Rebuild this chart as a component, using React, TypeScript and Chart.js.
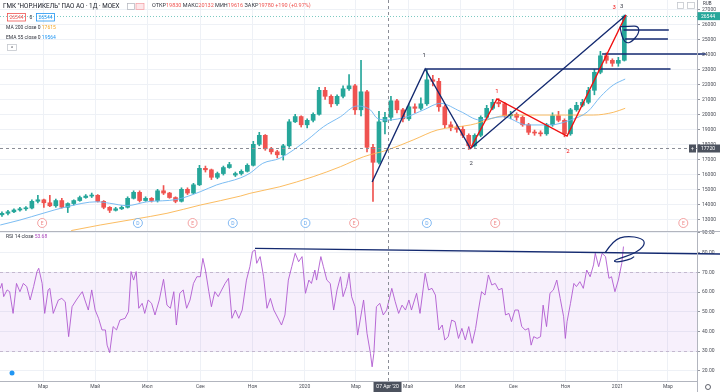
import React, { useEffect, useRef } from 'react';
import { Chart, registerables } from 'chart.js';
Chart.register(...registerables);

const FONT = 'Roboto, "Liberation Sans", sans-serif';

// ---- time axis (days since 2019-01-01) ----
const monthTickDays = [59, 120, 181, 243, 304, 365, 425, 486, 547, 609, 670, 731, 790];
const monthTickLabels = ['Мар', 'Май', 'Июл', 'Сен', 'Ноя', '2020', 'Мар', 'Май', 'Июл', 'Сен', 'Ноя', '2021', 'Мар'];
const priceTicks = [13000, 14000, 15000, 16000, 17000, 18000, 19000, 20000, 21000, 22000, 23000, 24000, 25000, 26000, 27000];
const rsiTicks = [20, 30, 40, 50, 60, 70, 80, 90];

// ---- weekly candles ----
const candleDays = [
  11, 18, 25, 32, 39, 46, 53, 60, 67, 74,
  81, 88, 95, 102, 109, 116, 123, 130, 137, 144,
  151, 158, 165, 172, 179, 186, 193, 200, 207, 214,
  221, 228, 235, 242, 249, 256, 263, 270, 277, 284,
  291, 298, 305, 312, 319, 326, 333, 340, 347, 354,
  361, 368, 375, 382, 389, 396, 403, 410, 417, 424,
  431, 438, 445, 452, 459, 466, 473, 480, 487, 494,
  501, 508, 515, 522, 529, 536, 543, 550, 557, 564,
  571, 578, 585, 592, 599, 606, 613, 620, 627, 634,
  641, 648, 655, 662, 669, 676, 683, 690, 697, 704,
  711, 718, 725, 732, 739];
const opens = [
  13300, 13400, 13500, 13620, 13700, 13750, 14200, 14300, 14100, 13900,
  14250, 13800, 14050, 14250, 14450, 14550, 14600, 14200, 13800, 13600,
  13700, 13800, 14400, 14800, 14250, 14400, 14250, 14900, 14750, 14450,
  14200, 15000, 14750, 15300, 16400, 16300, 15800, 16050, 16450, 15950,
  16050, 16200, 16600, 18000, 18600, 17700, 17500, 17300, 17900, 19500,
  19850, 19300, 19600, 20000, 21600, 21200, 20700, 21200, 21700, 21900,
  20300, 21500, 17800, 16800, 19500, 19800, 20900, 20300, 19700, 20500,
  20400, 20700, 22300, 22200, 20500, 19300, 19100, 19000, 18600, 17900,
  18600, 19800, 20400, 20800, 20700, 19900, 20000, 19800, 19300, 18800,
  18750, 18700, 19300, 19900, 19600, 18700, 20300, 20600, 20800, 21600,
  22800, 23900, 23600, 23400, 23600];
const highs = [
  13500, 13600, 13700, 13800, 13850, 14300, 14600, 14350, 14600, 14350,
  14400, 14100, 14300, 14550, 14650, 14750, 14650, 14250, 13850, 13800,
  13900, 14500, 14900, 14900, 14500, 14450, 15000, 15250, 14800, 14500,
  15100, 15100, 15400, 16600, 16550, 16350, 16150, 16550, 16800, 16150,
  16300, 16700, 18200, 18800, 18650, 17800, 17600, 18000, 19650, 20000,
  19900, 19700, 20100, 21800, 21800, 21300, 21300, 21900, 22650, 22000,
  23600, 21600, 18000, 20200, 20132, 21200, 21000, 20400, 20700, 20700,
  21100, 23000, 22600, 22400, 20600, 19500, 19300, 19200, 18700, 18700,
  19900, 20600, 21000, 21050, 20800, 20200, 20100, 19900, 19400, 18950,
  18900, 19400, 20100, 20200, 19700, 20400, 20800, 21000, 21800, 23000,
  24200, 24100, 23700, 23800, 26620];
const lows = [
  13200, 13300, 13450, 13550, 13600, 13700, 14100, 13800, 13850, 13800,
  13750, 13450, 13950, 14200, 14400, 14450, 14150, 13700, 13450, 13550,
  13650, 13750, 14350, 14150, 14200, 14150, 14150, 14650, 14400, 14100,
  14150, 14650, 14700, 15250, 16150, 15650, 15700, 15950, 16400, 15850,
  15950, 16150, 16550, 17900, 17600, 17350, 17100, 16950, 17800, 19450,
  19150, 19100, 19500, 19950, 21000, 20500, 20600, 21100, 21600, 20000,
  19900, 17500, 14200, 16700, 18700, 19600, 20100, 19500, 19600, 20100,
  20300, 20600, 21900, 20200, 19100, 18900, 18800, 18450, 17650, 17800,
  18500, 19700, 20300, 20500, 19800, 19700, 19600, 19200, 18650, 18600,
  18550, 18600, 19200, 19500, 18500, 18600, 20200, 20500, 20700, 21300,
  22700, 23400, 23200, 23200, 23550];
const closes = [
  13400, 13500, 13620, 13700, 13750, 14200, 14300, 14100, 13900, 14250,
  13800, 14050, 14250, 14450, 14550, 14600, 14200, 13800, 13600, 13700,
  13800, 14400, 14800, 14250, 14400, 14250, 14900, 14750, 14450, 14200,
  15000, 14750, 15300, 16400, 16300, 15800, 16050, 16450, 16650, 16050,
  16200, 16600, 18000, 18600, 17700, 17500, 17300, 17900, 19500, 19850,
  19300, 19600, 20000, 21600, 21200, 20700, 21200, 21700, 21900, 20300,
  21500, 17800, 16800, 19500, 19800, 20900, 20300, 19700, 20500, 20400,
  20700, 22300, 22200, 20500, 19300, 19100, 19000, 18600, 17900, 18600,
  19800, 20400, 20800, 20700, 19900, 20000, 19800, 19300, 18800, 18750,
  18700, 19300, 19900, 19600, 18700, 20300, 20600, 20800, 21600, 22800,
  23900, 23600, 23400, 23600, 26544];

// ---- moving averages [day, value] ----
const ema55: [number, number][] = [
  [9, 12620], [32, 12950], [59, 13400], [87, 13840], [122, 14170], [137, 14070], [157, 13910],
  [181, 14170], [216, 14330], [243, 14840], [262, 15290], [290, 15760], [301, 16070], [316, 16730],
  [336, 17070], [368, 18290], [387, 19170], [407, 19840], [426, 20550], [442, 20290], [450, 19730],
  [462, 19620], [485, 19840], [504, 20290], [524, 20730], [547, 20200], [570, 19620], [597, 19840],
  [625, 19290], [652, 19290], [676, 19620], [696, 20170], [711, 21170], [726, 21950], [740, 22350]];
const ma200: [number, number][] = [
  [92, 12250], [126, 12620], [165, 13000], [204, 13400], [243, 13950], [290, 14550], [301, 14730],
  [336, 15170], [375, 15840], [407, 16510], [434, 17170], [462, 17620], [492, 18290], [520, 18950],
  [559, 19290], [605, 19950], [664, 19950], [703, 19950], [726, 20130], [740, 20400]];

// ---- RSI 14 [day, value] ----
const rsi14: [number, number][] = [
  [9, 61.9], [11, 64.4], [13, 57.7], [17, 61.1], [20, 60.2], [24, 49.2], [28, 64.4], [32, 60.2],
  [36, 64.4], [40, 62.8], [44, 56], [48, 62.8], [52, 70.4], [54, 72.1], [58, 64.4], [61, 49.2],
  [65, 61.1], [67, 61.9], [71, 49.2], [77, 56], [81, 56.8], [85, 55.1], [89, 37.4], [93, 52.6],
  [98, 56], [102, 58.5], [105, 60.2], [108, 56], [112, 50.9], [116, 61.1], [120, 50.9], [124, 46.7],
  [128, 40.8], [132, 40.8], [134, 33.1], [137, 29.3], [141, 42.5], [145, 40.8], [149, 45.8], [155, 46.7],
  [159, 50.1], [162, 70.4], [165, 66.1], [168, 70.4], [171, 51.8], [175, 54.3], [178, 49.2], [182, 56],
  [186, 54.3], [190, 48.4], [195, 56], [200, 66.5], [204, 53.4], [208, 51.8], [212, 60.2], [215, 43.3],
  [219, 59.4], [223, 61.1], [227, 51.8], [231, 56], [235, 64.4], [239, 67.8], [243, 67.8], [246, 77.1],
  [249, 71.2], [253, 60.2], [256, 52.6], [260, 60.2], [264, 57.7], [268, 61.1], [272, 64.4], [276, 67],
  [280, 46.7], [284, 50.9], [288, 46.7], [292, 50.9], [297, 66.1], [301, 72.9], [304, 80.5], [307, 81.4],
  [309, 74.6], [313, 78], [317, 67.8], [321, 51.8], [325, 56.8], [329, 50.9], [332, 48.4], [338, 43.3],
  [342, 48.4], [346, 66.1], [350, 72.9], [354, 79.7], [358, 75.4], [362, 78], [366, 59.4], [370, 66.1],
  [373, 64.4], [377, 71.2], [379, 66.1], [384, 78], [387, 72.9], [391, 66.1], [395, 64.4], [399, 50.9],
  [403, 61.1], [407, 67.8], [410, 57.7], [414, 62.8], [417, 69.5], [420, 57.7], [424, 52.6], [427, 38.2],
  [430, 45.8], [434, 56], [438, 39.1], [442, 28.9], [444, 22.1], [446, 28.9], [449, 52.6], [453, 54.3],
  [457, 48.4], [461, 50.9], [467, 61.9], [471, 55.1], [475, 49.2], [479, 53.4], [483, 50.9], [487, 56],
  [490, 50.9], [496, 59.4], [500, 49.2], [506, 69.5], [510, 61.1], [514, 61.9], [518, 58.5], [522, 40.8],
  [526, 43.3], [529, 35.7], [533, 37.4], [537, 45.8], [541, 45], [545, 36.5], [549, 41.6], [553, 35.7],
  [557, 42.5], [561, 34], [565, 41.6], [568, 50.1], [572, 60.2], [576, 58.5], [580, 68.7], [584, 63.6],
  [588, 64.4], [592, 61.1], [596, 61.9], [600, 48.4], [604, 49.2], [607, 45], [611, 50.9], [615, 50.9],
  [619, 42.5], [623, 40.8], [627, 41.6], [630, 33.1], [633, 37.4], [637, 36.5], [641, 37.4], [644, 53.4],
  [648, 42.5], [652, 59.4], [656, 61.1], [660, 66.1], [664, 56.8], [668, 47.5], [670, 36.5], [672, 45],
  [676, 54.3], [680, 64.4], [683, 62.8], [687, 65.3], [691, 61.9], [695, 71.2], [699, 67.8], [703, 73.8],
  [705, 79.7], [709, 72.9], [713, 79.7], [717, 78], [721, 67], [724, 67.8], [728, 60.2], [732, 66.1],
  [736, 74.6], [738, 83.1]];
const rsiBand = [70, 30];

// ---- annotations (data units) ----
const blueWaveDays = [444, 506, 559, 741];
const blueWavePrices = [15490, 23020, 17720, 26620];
const redWaveDays = [559, 590, 672, 741];
const redWavePrices = [17720, 21020, 18550, 26620];
const blueLabelDays = [505, 560, 736];
const blueLabelPrices = [23950, 16750, 27220];
const redLabelDays = [590, 673, 727];
const redLabelPrices = [21550, 17490, 27090];
const waveLabelTexts = ['1', '2', '3'];
const levelPrices = [23020, 24020, 25020, 25620];
const levelStartDays = [506, 713, 740, 738];
const levelEndDays = [793, 834, 790, 791];
const priceLoopDays = [734, 745, 755.5, 756.3, 747.8, 742, 737.3, 735, 734];
const priceLoopPrices = [25840, 25860, 25887, 25400, 24840, 24733, 25000, 25507, 25840];
const rsiTrendDays = [307, 851];
const rsiTrendValues = [82.2, 79.3];
const rsiLoopDays = [716.6, 726.3, 742, 759.5, 763.4, 757.5, 745.8, 734, 726.3, 730.2, 745.8, 750.5];
const rsiLoopValues = [80, 86.4, 88.6, 87.3, 84.8, 81.4, 78.8, 77.2, 75.9, 75.1, 76.6, 78];
const eventEDays = [58, 234, 423, 588, 808];
const eventDDays = [170, 281, 366, 508];
const crossDay = 462;
const crossPrice = 17720;
const crossLabel = "07 Apr '20";
const lastPrice = 26544;

const UP = '#26a69a';
const DOWN = '#ef5350';
const NAVY = '#142a70';
const GRID = '#eef1f6';

function smoothPath(ctx: CanvasRenderingContext2D, pts: number[][]) {
  ctx.beginPath();
  ctx.moveTo(pts[0][0], pts[0][1]);
  for (let i = 1; i < pts.length - 1; i++) {
    const mx = (pts[i][0] + pts[i + 1][0]) / 2;
    const my = (pts[i][1] + pts[i + 1][1]) / 2;
    ctx.quadraticCurveTo(pts[i][0], pts[i][1], mx, my);
  }
  const l = pts[pts.length - 1];
  ctx.lineTo(l[0], l[1]);
  ctx.stroke();
}

function seq(ctx: CanvasRenderingContext2D, x: number, y: number, parts: [string, string][]) {
  let cx = x;
  for (const [t, c] of parts) {
    ctx.fillStyle = c;
    ctx.fillText(t, cx, y);
    cx += ctx.measureText(t).width;
  }
  return cx;
}

const overlayPlugin = {
  id: 'overlay',
  beforeDatasetsDraw(chart: any) {
    const { ctx, chartArea } = chart;
    const ys = chart.scales.y, rs = chart.scales.rsi;
    ctx.save();
    const y70 = rs.getPixelForValue(rsiBand[0]);
    const y30 = rs.getPixelForValue(rsiBand[1]);
    ctx.fillStyle = 'rgba(165, 90, 225, 0.09)';
    ctx.fillRect(chartArea.left, y70, chartArea.right - chartArea.left, y30 - y70);
    ctx.setLineDash([3, 3]);
    ctx.strokeStyle = '#c4b8cf';
    ctx.lineWidth = 1;
    for (const y of [y70, y30]) {
      ctx.beginPath();
      ctx.moveTo(chartArea.left, Math.round(y) + 0.5);
      ctx.lineTo(chartArea.right, Math.round(y) + 0.5);
      ctx.stroke();
    }
    ctx.setLineDash([1, 2]);
    ctx.strokeStyle = 'rgba(38,166,154,0.6)';
    const yl = Math.round(ys.getPixelForValue(lastPrice)) + 0.5;
    ctx.beginPath();
    ctx.moveTo(chartArea.left, yl);
    ctx.lineTo(chartArea.right, yl);
    ctx.stroke();
    ctx.restore();
  },
  afterDatasetsDraw(chart: any) {
    const { ctx, chartArea } = chart;
    const xs = chart.scales.x, ys = chart.scales.y, rs = chart.scales.rsi;
    const X = (d: number) => xs.getPixelForValue(d);
    const Y = (p: number) => ys.getPixelForValue(p);
    const R = (v: number) => rs.getPixelForValue(v);
    ctx.save();
    // crosshair
    ctx.setLineDash([3, 3]);
    ctx.strokeStyle = '#8a8d96';
    ctx.lineWidth = 1;
    const cx = Math.round(X(crossDay)) + 0.5;
    ctx.beginPath();
    ctx.moveTo(cx, chartArea.top);
    ctx.lineTo(cx, chartArea.bottom);
    ctx.stroke();
    const cy = Math.round(Y(crossPrice)) + 0.5;
    ctx.beginPath();
    ctx.moveTo(chartArea.left, cy);
    ctx.lineTo(chartArea.right, cy);
    ctx.stroke();
    ctx.setLineDash([]);

    // event markers
    const evY = ys.bottom - 8;
    ctx.font = `5px ${FONT}`;
    ctx.textAlign = 'center';
    ctx.textBaseline = 'middle';
    const drawEv = (d: number, t: string, c: string) => {
      ctx.beginPath();
      ctx.arc(X(d), evY, 4.5, 0, Math.PI * 2);
      ctx.fillStyle = '#fff';
      ctx.fill();
      ctx.strokeStyle = c;
      ctx.lineWidth = 0.8;
      ctx.stroke();
      ctx.fillStyle = c;
      ctx.fillText(t, X(d), evY + 0.3);
    };
    eventEDays.forEach(d => drawEv(d, 'E', '#f08a8a'));
    eventDDays.forEach(d => drawEv(d, 'D', '#64a8ef'));

    // horizontal levels
    ctx.strokeStyle = NAVY;
    ctx.lineWidth = 1.4;
    levelPrices.forEach((p, i) => {
      ctx.beginPath();
      ctx.moveTo(X(levelStartDays[i]), Y(p));
      ctx.lineTo(X(levelEndDays[i]), Y(p));
      ctx.stroke();
    });
    // waves
    const wave = (ds: number[], ps: number[], c: string) => {
      ctx.strokeStyle = c;
      ctx.lineWidth = 1.4;
      ctx.beginPath();
      ds.forEach((d, i) => (i ? ctx.lineTo(X(d), Y(ps[i])) : ctx.moveTo(X(d), Y(ps[i]))));
      ctx.stroke();
    };
    wave(blueWaveDays, blueWavePrices, NAVY);
    wave(redWaveDays, redWavePrices, '#f01010');
    ctx.font = `6px ${FONT}`;
    waveLabelTexts.forEach((t, i) => {
      ctx.fillStyle = '#3a3d48';
      ctx.fillText(t, X(blueLabelDays[i]), Y(blueLabelPrices[i]));
      ctx.fillStyle = '#f01010';
      ctx.fillText(t, X(redLabelDays[i]), Y(redLabelPrices[i]));
    });
    // hand-drawn loops
    ctx.strokeStyle = NAVY;
    ctx.lineWidth = 1.2;
    smoothPath(ctx, priceLoopDays.map((d, i) => [X(d), Y(priceLoopPrices[i])]));
    smoothPath(ctx, rsiLoopDays.map((d, i) => [X(d), R(rsiLoopValues[i])]));
    // rsi trend
    ctx.lineWidth = 1.4;
    ctx.beginPath();
    ctx.moveTo(X(rsiTrendDays[0]), R(rsiTrendValues[0]));
    ctx.lineTo(X(rsiTrendDays[1]), R(rsiTrendValues[1]));
    ctx.stroke();
    ctx.restore();
  },
  afterDraw(chart: any) {
    const { ctx, chartArea, width, height } = chart;
    const xs = chart.scales.x, ys = chart.scales.y, rs = chart.scales.rsi;
    ctx.save();
    // separators
    ctx.strokeStyle = '#b2b5be';
    ctx.lineWidth = 1;
    const sy = Math.round(ys.bottom) + 0.5;
    ctx.beginPath(); ctx.moveTo(0, sy); ctx.lineTo(width, sy); ctx.stroke();
    const ax = Math.round(chartArea.right) + 0.5;
    ctx.beginPath(); ctx.moveTo(ax, 0); ctx.lineTo(ax, height); ctx.stroke();

    ctx.textBaseline = 'middle';
    ctx.textAlign = 'left';
    // header
    ctx.font = `6.3px ${FONT}`;
    ctx.fillStyle = '#131722';
    ctx.fillText('ГМК "НОР.НИКЕЛЬ" ПАО АО · 1Д · MOEX', 3, 6);
    ctx.strokeStyle = '#b0b3bb';
    ctx.lineWidth = 0.7;
    ctx.strokeRect(127.5, 3.5, 7, 6);
    ctx.fillStyle = '#fde7ea';
    ctx.fillRect(136, 3.5, 8, 6);
    ctx.strokeStyle = '#f29aa0';
    ctx.strokeRect(136, 3.5, 8, 6);
    ctx.font = `5.5px ${FONT}`;
    const G = '#30333d';
    seq(ctx, 152, 6, [['ОТКР', G], ['19830', DOWN], [' МАКС', G], ['20132', DOWN], [' МИН', G], ['19616', DOWN],
      [' ЗАКР', G], ['19780', DOWN], [' +190 (+0.97%)', DOWN]]);
    // price boxes
    ctx.font = `5px ${FONT}`;
    ctx.strokeStyle = DOWN;
    ctx.lineWidth = 0.8;
    ctx.strokeRect(7.5, 13.5, 18, 7.5);
    ctx.textAlign = 'center';
    ctx.fillStyle = DOWN;
    ctx.fillText('26544', 16.5, 17.3);
    ctx.fillStyle = G;
    ctx.fillText('0', 31, 17.3);
    ctx.strokeStyle = '#2196f3';
    ctx.strokeRect(36.5, 13.5, 18, 7.5);
    ctx.fillStyle = '#2196f3';
    ctx.fillText('26544', 45.5, 17.3);
    ctx.textAlign = 'left';
    seq(ctx, 6, 28, [['MA 200 close 0 ', G], ['17615', '#f5a623']]);
    seq(ctx, 6, 38, [['EMA 55 close 0 ', G], ['19564', '#2196f3']]);
    ctx.strokeStyle = '#c4c7ce';
    ctx.strokeRect(7.5, 44.5, 9, 6);
    ctx.fillStyle = G;
    ctx.textAlign = 'center';
    ctx.fillText('^', 12, 48.5);
    ctx.textAlign = 'left';
    // RSI title
    seq(ctx, 6, rs.top + 6, [['RSI 14 close ', G], ['53.68', '#ab47bc']]);

    // top-right icons
    ctx.strokeStyle = '#c4c7ce';
    ctx.strokeRect(677.5, 2.5, 6, 6);
    ctx.strokeRect(687.5, 2.5, 7, 6);
    ctx.fillStyle = '#fff';
    ctx.fillRect(chartArea.right + 1, 0, 22, 7);
    ctx.fillStyle = G;
    ctx.font = `4.5px ${FONT}`;
    ctx.fillText('RUB', 703, 4);

    // price label
    ctx.font = `5px ${FONT}`;
    const yl = ys.getPixelForValue(lastPrice);
    ctx.fillStyle = UP;
    ctx.fillRect(chartArea.right + 0.5, yl - 4, 23, 8);
    ctx.fillStyle = '#fff';
    ctx.fillText('26544', chartArea.right + 4, yl + 0.3);
    // crosshair labels
    const yc = ys.getPixelForValue(crossPrice);
    ctx.fillStyle = '#4c525e';
    ctx.fillRect(chartArea.right + 0.5, yc - 4, 23, 8);
    ctx.fillRect(chartArea.right - 8, yc - 4, 7, 8);
    ctx.fillStyle = '#fff';
    ctx.fillText('17720', chartArea.right + 4, yc + 0.3);
    ctx.textAlign = 'center';
    ctx.fillText('+', chartArea.right - 4.5, yc + 0.3);
    const xc = xs.getPixelForValue(crossDay);
    ctx.fillStyle = '#4c525e';
    ctx.fillRect(xc - 14, chartArea.bottom + 1, 28, 10);
    ctx.fillStyle = '#fff';
    ctx.fillText(crossLabel, xc, chartArea.bottom + 6);
    // gear
    ctx.strokeStyle = '#50535e';
    ctx.lineWidth = 0.9;
    ctx.beginPath();
    ctx.arc(708, chartArea.bottom + 6, 2.5, 0, Math.PI * 2);
    ctx.stroke();
    // bottom-left icon
    ctx.fillStyle = '#2196f3';
    ctx.beginPath();
    ctx.arc(12, rs.bottom - 8, 2.5, 0, Math.PI * 2);
    ctx.fill();
    ctx.restore();
  },
};

export default function App() {
  const ref = useRef<HTMLCanvasElement>(null);
  useEffect(() => {
    document.body.style.margin = '0';
    const colors = candleDays.map((_, i) => (closes[i] >= opens[i] ? UP : DOWN));
    const tickFont = { size: 5, family: FONT };
    const noPad = (s: any) => { s.paddingTop = 0; s.paddingBottom = 0; };
    const chart = new Chart(ref.current as HTMLCanvasElement, {
      type: 'bar',
      data: {
        datasets: [
          {
            type: 'line', label: 'RSI', yAxisID: 'rsi', order: 1,
            data: rsi14.map(([d, v]) => ({ x: d, y: v })),
            borderColor: '#b05ad0', borderWidth: 0.9, pointRadius: 0, tension: 0,
          },
          {
            type: 'line', label: 'EMA 55', yAxisID: 'y', order: 2,
            data: ema55.map(([d, v]) => ({ x: d, y: v })),
            borderColor: '#6cb4f0', borderWidth: 0.9, pointRadius: 0, cubicInterpolationMode: 'monotone',
          },
          {
            type: 'line', label: 'MA 200', yAxisID: 'y', order: 3,
            data: ma200.map(([d, v]) => ({ x: d, y: v })),
            borderColor: '#fbb44f', borderWidth: 0.9, pointRadius: 0, cubicInterpolationMode: 'monotone',
          },
          {
            type: 'bar', label: 'body', yAxisID: 'y', order: 4,
            data: candleDays.map((d, i) => ({ x: d, y: [opens[i], closes[i]] })),
            backgroundColor: colors, barThickness: 4, grouped: false, minBarLength: 1, borderWidth: 0,
          },
          {
            type: 'bar', label: 'wick', yAxisID: 'y', order: 5,
            data: candleDays.map((d, i) => ({ x: d, y: [lows[i], highs[i]] })),
            backgroundColor: colors, barThickness: 1, grouped: false, borderWidth: 0,
          },
        ] as any,
      },
      options: {
        animation: false,
        responsive: false,
        devicePixelRatio: 1,
        layout: { padding: 0 },
        plugins: { legend: { display: false }, tooltip: { enabled: false } },
        scales: {
          x: {
            type: 'linear', min: 8.7, max: 824, bounds: 'data', offset: false,
            grid: { offset: false, color: GRID, drawTicks: false },
            border: { color: '#b2b5be' },
            ticks: {
              autoSkip: false, maxRotation: 0, padding: 3, color: '#4c4f58', font: tickFont,
              callback: (_v: any, i: number) => monthTickLabels[i],
            },
            afterBuildTicks: (s: any) => { s.ticks = monthTickDays.map(v => ({ value: v })); },
            afterFit: (s: any) => { s.height = 11; s.paddingLeft = 0; s.paddingRight = 0; },
          },
          y: {
            type: 'linear', position: 'right', stack: 'panes', stackWeight: 231, weight: 0,
            min: 12220, max: 27620, bounds: 'data', beginAtZero: false,
            grid: { color: GRID, tickLength: 3, tickColor: '#9598a1' },
            border: { color: '#b2b5be' },
            ticks: {
              autoSkip: false, padding: 2, color: '#4c4f58', font: tickFont,
              callback: (v: any) => String(v),
            },
            afterBuildTicks: (s: any) => { s.ticks = priceTicks.map(v => ({ value: v })); },
            afterFit: (s: any) => { s.width = 23; noPad(s); },
          },
          rsi: {
            type: 'linear', position: 'right', stack: 'panes', stackWeight: 150, weight: 1,
            min: 14.9, max: 91, bounds: 'data', beginAtZero: false,
            grid: { color: GRID, tickLength: 3, tickColor: '#9598a1' },
            border: { color: '#b2b5be' },
            ticks: {
              autoSkip: false, padding: 2, color: '#4c4f58', font: tickFont,
              callback: (v: any) => Number(v).toFixed(2),
            },
            afterBuildTicks: (s: any) => { s.ticks = rsiTicks.map(v => ({ value: v })); },
            afterFit: (s: any) => { s.width = 23; noPad(s); },
          },
        } as any,
      },
      plugins: [overlayPlugin],
    });
    return () => chart.destroy();
  }, []);
  return (
    <div style={{ position: 'fixed', left: 0, top: 0, width: 720, height: 392, background: '#fff' }}>
      <canvas ref={ref} width={720} height={392} style={{ width: 720, height: 392 }} />
    </div>
  );
}
